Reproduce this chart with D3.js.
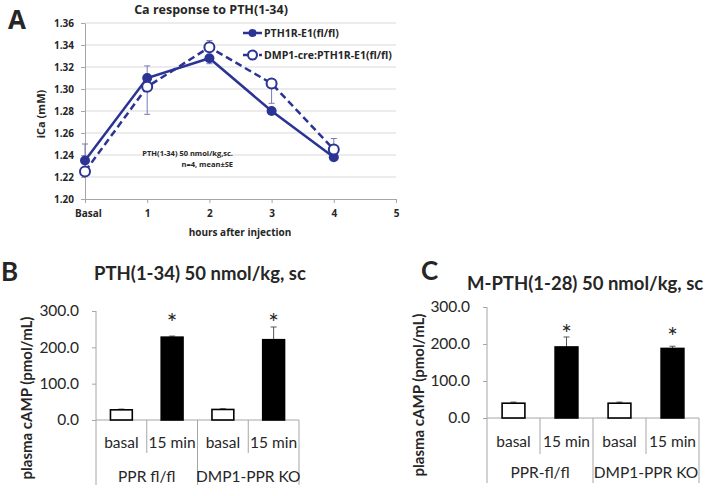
<!DOCTYPE html>
<html><head><meta charset="utf-8">
<script src="https://cdn.jsdelivr.net/npm/d3@7"></script>
<style>body{margin:0;background:#fff} text{font-family:Lato,"Open Sans",sans-serif} .pa text{font-family:"Open Sans",sans-serif}</style>
</head><body>
<svg id="c" width="710" height="496"></svg>
<script>
// ---------- Panel A data ----------
const hourLabels = ["Basal","1","2","3","4","5"];
const hours = [0,1,2,3,4];
const iCaFlox = [1.235,1.310,1.328,1.280,1.238];
const iCaFloxErrEnd = [1.250,1.321,1.323,1.280,1.240];
const iCaKO = [1.225,1.302,1.338,1.305,1.245];
const iCaKOErrEnd = [1.225,1.277,1.344,1.287,1.255];
const iCaTicks = [1.20,1.22,1.24,1.26,1.28,1.30,1.32,1.34,1.36];
const seriesNames = ["PTH1R-E1(fl/fl)","DMP1-cre:PTH1R-E1(fl/fl)"];

// ---------- Panel B / C data ----------
const conditions = ["basal","15 min"];
const groupsB = ["PPR fl/fl","DMP1-PPR KO"];
const campB = [28,228,29,221];
const campBErr = [2,3,2,35];
const starB = [275,275];
const groupsC = ["PPR-fl/fl","DMP1-PPR KO"];
const campC = [40,192,40,188];
const campCErr = [3,27,3,6];
const starC = [235,227];
const campTicks = [0,100,200,300];

const svg = d3.select("#c");
svg.append("rect").attr("width",710).attr("height",496).attr("fill","#fff");
const blue = "#2b3494", errBlue = "#7779bb", grid = "#d9d9d9", axisGray = "#a6a6a6", txt = "#262626";

// ================= Panel A =================
const ax = d3.scaleLinear().domain([0,5]).range([85,396]);
const ay = d3.scaleLinear().domain([1.20,1.36]).range([199,23]);
const gA = svg.append("g").attr("class","pa");
gA.append("text").attr("x",8).attr("y",29).text("A").attr("font-size",26).attr("font-weight","bold").attr("fill",txt);
gA.append("text").attr("x",211).attr("y",14).attr("text-anchor","middle").text("Ca response to PTH(1-34)")
  .attr("font-size",12.5).attr("font-weight","bold").attr("fill",txt);
// grid
gA.selectAll("line.g").data(iCaTicks.slice(1)).join("line")
  .attr("x1",ax(0)).attr("x2",ax(5)).attr("y1",d=>ay(d)).attr("y2",d=>ay(d))
  .attr("stroke",grid).attr("stroke-width",1);
// y axis
const yAxA = gA.append("g").attr("transform",`translate(${ax(0)},0)`)
  .call(d3.axisLeft(ay).tickValues(iCaTicks).tickFormat(d3.format(".2f")).tickSize(4).tickSizeOuter(0));
yAxA.select(".domain").attr("stroke",axisGray);
yAxA.selectAll(".tick line").attr("stroke",axisGray);
yAxA.selectAll(".tick text").attr("font-size",10).attr("font-weight","bold").attr("fill",txt).attr("x",-11)
  .style("font-family","Open Sans");
// x axis
const xAxA = gA.append("g").attr("transform",`translate(0,${ay(1.20)})`)
  .call(d3.axisBottom(ax).tickValues([0,1,2,3,4,5]).tickFormat((d,i)=>hourLabels[i]).tickSize(4).tickSizeOuter(0));
xAxA.select(".domain").attr("stroke",axisGray);
xAxA.selectAll(".tick line").attr("stroke",axisGray);
xAxA.selectAll(".tick text").attr("font-size",10).attr("font-weight","bold").attr("fill",txt).attr("dy","1.1em")
  .style("font-family","Open Sans");
xAxA.selectAll(".tick text").filter(d=>d===0).attr("dx",3);
gA.append("text").attr("x",240).attr("y",236).attr("text-anchor","middle").text("hours after injection")
  .attr("font-size",10).attr("font-weight","bold").attr("fill",txt);
gA.append("text").attr("transform","translate(45,114) rotate(-90)").attr("text-anchor","middle").text("iCa (mM)")
  .attr("font-size",11).attr("font-weight","bold").attr("fill",txt);
// annotation
gA.append("text").attr("x",233).attr("y",156).attr("text-anchor","end").text("PTH(1-34) 50 nmol/kg,sc.")
  .attr("font-size",7.5).attr("font-weight","bold").attr("fill",txt);
gA.append("text").attr("x",233).attr("y",167).attr("text-anchor","end").text("n=4, mean±SE")
  .attr("font-size",7.5).attr("font-weight","bold").attr("fill",txt);
// error bars
function errBars(vals, ends){
  hours.forEach((h,i)=>{
    if (Math.abs(ends[i]-vals[i])<1e-6) return;
    const x=ax(h);
    gA.append("line").attr("x1",x).attr("x2",x).attr("y1",ay(vals[i])).attr("y2",ay(ends[i])).attr("stroke",errBlue).attr("stroke-width",1);
    gA.append("line").attr("x1",x-3).attr("x2",x+3).attr("y1",ay(ends[i])).attr("y2",ay(ends[i])).attr("stroke",errBlue).attr("stroke-width",1);
  });
}
errBars(iCaFlox, iCaFloxErrEnd);
errBars(iCaKO, iCaKOErrEnd);
const line = d3.line().x((d,i)=>ax(hours[i])).y(d=>ay(d));
gA.append("path").datum(iCaFlox).attr("d",line).attr("fill","none").attr("stroke",blue).attr("stroke-width",2.5);
gA.append("path").datum(iCaKO).attr("d",line).attr("fill","none").attr("stroke",blue).attr("stroke-width",2.5).attr("stroke-dasharray","7,4");
gA.selectAll("circle.f").data(iCaFlox).join("circle").attr("cx",(d,i)=>ax(hours[i])).attr("cy",d=>ay(d)).attr("r",5).attr("fill",blue);
gA.selectAll("circle.k").data(iCaKO).join("circle").attr("cx",(d,i)=>ax(hours[i])).attr("cy",d=>ay(d)).attr("r",5).attr("fill","#fff").attr("stroke",blue).attr("stroke-width",2);
// legend
const lg = [{y:33,dash:null,fill:blue},{y:55,dash:"5,3",fill:"#fff"}];
lg.forEach((l,i)=>{
  gA.append("line").attr("x1",243).attr("x2",262).attr("y1",l.y).attr("y2",l.y).attr("stroke",blue).attr("stroke-width",2.5).attr("stroke-dasharray",l.dash);
  gA.append("circle").attr("cx",252.5).attr("cy",l.y).attr("r",i?4.5:4).attr("fill",l.fill).attr("stroke",blue).attr("stroke-width",i?2:0);
  gA.append("text").attr("x",264).attr("y",l.y+4).text(seriesNames[i]).attr("font-size",10.5).attr("font-weight","bold").attr("fill",txt);
});

// ================= Bar panels =================
function barPanel(o){
  const g = svg.append("g");
  const y = d3.scaleLinear().domain([0,300]).range([o.y0,o.y300]);
  const keys = [0,1,2,3];
  const xb = d3.scaleBand().domain(keys).range([o.xl,o.xr]).padding(0);
  const bw = xb.bandwidth()*0.43;
  g.append("text").attr("x",o.lx).attr("y",o.ly).text(o.letter).attr("font-size",26).attr("font-weight","bold").attr("fill",txt);
  g.append("text").attr("x",o.tx).attr("y",o.ty).text(o.title).attr("font-size",18.5).attr("font-weight","bold").attr("fill",txt);
  // y axis
  const ya = g.append("g").attr("transform",`translate(${o.xl},0)`)
    .call(d3.axisLeft(y).tickValues(campTicks).tickFormat(d3.format(".1f")).tickSize(4).tickSizeOuter(0));
  ya.select(".domain").remove();
  ya.selectAll(".tick line").attr("stroke",axisGray);
  ya.selectAll(".tick text").attr("font-size",15.5).attr("fill",txt).attr("x",-17).style("font-family","Lato");
  g.append("line").attr("x1",o.xl).attr("x2",o.xl).attr("y1",o.y300).attr("y2",o.yLong).attr("stroke",axisGray);
  g.append("line").attr("x1",o.xl).attr("x2",o.xr).attr("y1",o.y0).attr("y2",o.y0).attr("stroke",axisGray);
  // dividers
  [1,2,3,4].forEach(k=>{
    const x = k<4 ? xb(k) : o.xr;
    g.append("line").attr("x1",x).attr("x2",x).attr("y1",o.y0).attr("y2",(k%2===0)?o.yLong:o.yShort).attr("stroke",axisGray);
  });
  g.append("text").attr("transform",`translate(${o.ylx},${(o.y300+o.yLong)/2}) rotate(-90)`).attr("text-anchor","middle")
    .text("plasma cAMP (pmol/mL)").attr("font-size",15).attr("font-weight","bold").attr("fill",txt);
  // error bars
  keys.forEach(k=>{
    const cx = xb(k)+xb.bandwidth()/2, top = y(o.vals[k]+o.errs[k]);
    g.append("line").attr("x1",cx).attr("x2",cx).attr("y1",y(o.vals[k])).attr("y2",top).attr("stroke","#555").attr("stroke-width",1);
    g.append("line").attr("x1",cx-3).attr("x2",cx+3).attr("y1",top).attr("y2",top).attr("stroke","#555").attr("stroke-width",1);
  });
  // bars
  g.selectAll("rect.b").data(o.vals).join("rect")
    .attr("x",(d,i)=>xb(i)+xb.bandwidth()/2-bw/2).attr("width",bw)
    .attr("y",d=>y(d)).attr("height",d=>o.y0-y(d))
    .attr("fill",(d,i)=>i%2?"#000":"#fff").attr("stroke","#000").attr("stroke-width",1.6);
  // asterisks
  o.stars.forEach((s,j)=>{
    const k = j*2+1;
    g.append("text").attr("x",xb(k)+xb.bandwidth()/2).attr("y",y(s)+12).attr("text-anchor","middle").text("*")
      .attr("font-size",25).attr("fill",txt);
  });
  // category labels
  keys.forEach(k=>{
    g.append("text").attr("x",xb(k)+xb.bandwidth()/2).attr("y",o.cy).attr("text-anchor","middle").text(conditions[k%2])
      .attr("font-size",15.5).attr("fill",txt);
  });
  o.groups.forEach((gn,j)=>{
    g.append("text").attr("x",xb(j*2+1)).attr("y",o.gy).attr("text-anchor","middle").text(gn).attr("font-size",15.5).attr("fill",txt);
  });
}
barPanel({letter:"B",lx:1,ly:281,title:"PTH(1-34) 50 nmol/kg, sc",tx:94,ty:280,
  xl:96,xr:299,y0:420,y300:311,yShort:453,yLong:485,ylx:32,cy:448,gy:482,
  vals:campB,errs:campBErr,stars:starB,groups:groupsB});
barPanel({letter:"C",lx:421,ly:280,title:"M-PTH(1-28) 50 nmol/kg, sc",tx:467,ty:290,
  xl:487,xr:699,y0:418,y300:307,yShort:454,yLong:483,ylx:424,cy:447,gy:478,
  vals:campC,errs:campCErr,stars:starC,groups:groupsC});
</script>
</body></html>
